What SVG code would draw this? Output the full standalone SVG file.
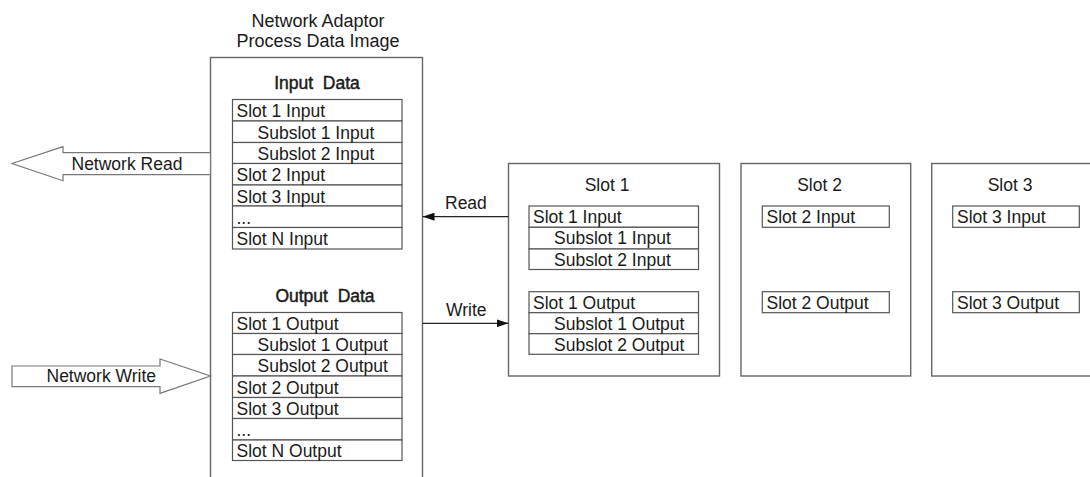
<svg xmlns="http://www.w3.org/2000/svg" width="1090" height="477" viewBox="0 0 1090 477">
<defs>
<style>
text{font-family:"Liberation Sans",Arial,sans-serif;font-size:17.5px;fill:#1a1a1a;white-space:pre}
.box{fill:#fff;stroke:#666;stroke-width:1.4}
.cell{fill:#fff;stroke:#555;stroke-width:1.2}
.hd{font-size:17.5px;stroke:#1a1a1a;stroke-width:0.45}
.ttl{font-size:18px}
.c{text-anchor:middle}
.conn{stroke:#222;stroke-width:1.3;fill:none}
.big{fill:#fff;stroke:#777;stroke-width:1.2}
</style>
<marker id="ah" viewBox="0 0 12 8" refX="12" refY="4" markerWidth="12" markerHeight="8" markerUnits="userSpaceOnUse" orient="auto">
<path d="M0,0 L12,4 L0,8 Z" fill="#111"/>
</marker>
</defs>

<g id="main">
<text class="ttl c" x="318" y="27">Network Adaptor</text>
<text class="ttl c" x="318" y="47">Process Data Image</text>
<rect class="box" x="210.5" y="57.5" width="212" height="425"/>
<text class="hd c" x="317" y="89">Input  Data</text>
<g id="inTable">
<rect class="cell" x="232.5" y="99.5" width="169.5" height="21.5"/>
<rect class="cell" x="232.5" y="121" width="169.5" height="21.5"/>
<rect class="cell" x="232.5" y="142.5" width="169.5" height="21"/>
<rect class="cell" x="232.5" y="163.5" width="169.5" height="21.5"/>
<rect class="cell" x="232.5" y="185" width="169.5" height="21"/>
<rect class="cell" x="232.5" y="206" width="169.5" height="21.5"/>
<rect class="cell" x="232.5" y="227.5" width="169.5" height="21.5"/>
<text x="236.5" y="117">Slot 1 Input</text>
<text x="257.5" y="138.5">Subslot 1 Input</text>
<text x="257.5" y="160">Subslot 2 Input</text>
<text x="236.5" y="181">Slot 2 Input</text>
<text x="236.5" y="202.5">Slot 3 Input</text>
<text x="236.5" y="224">...</text>
<text x="236.5" y="245">Slot N Input</text>
</g>
<text class="hd c" x="325" y="301.5">Output  Data</text>
<g id="outTable">
<rect class="cell" x="232.5" y="312.5" width="169.5" height="21"/>
<rect class="cell" x="232.5" y="333.5" width="169.5" height="21"/>
<rect class="cell" x="232.5" y="354.5" width="169.5" height="21.5"/>
<rect class="cell" x="232.5" y="376" width="169.5" height="21.5"/>
<rect class="cell" x="232.5" y="397.5" width="169.5" height="21"/>
<rect class="cell" x="232.5" y="418.5" width="169.5" height="21.5"/>
<rect class="cell" x="232.5" y="440" width="169.5" height="20.5"/>
<text x="236.5" y="330">Slot 1 Output</text>
<text x="257.5" y="351">Subslot 1 Output</text>
<text x="257.5" y="372">Subslot 2 Output</text>
<text x="236.5" y="393.5">Slot 2 Output</text>
<text x="236.5" y="414.5">Slot 3 Output</text>
<text x="236.5" y="436">...</text>
<text x="236.5" y="457">Slot N Output</text>
</g>
</g>

<g id="netRead">
<polygon class="big" points="12,163.5 63,146.7 63,152.7 210.5,152.7 210.5,174.7 63,174.7 63,180.7"/>
<text x="71.5" y="170">Network Read</text>
</g>
<g id="netWrite">
<polygon class="big" points="12,366 160,366 160,359 210.5,376 160,393.3 160,386.7 12,386.7"/>
<text x="46.5" y="382">Network Write</text>
</g>

<g id="slot1">
<rect class="box" x="508.5" y="163.5" width="211" height="212.5"/>
<text class="c" x="607" y="191">Slot 1</text>
<rect class="cell" x="529" y="206" width="169.5" height="21.3"/>
<rect class="cell" x="529" y="227.3" width="169.5" height="21.7"/>
<rect class="cell" x="529" y="249" width="169.5" height="20.5"/>
<text x="533" y="222.5">Slot 1 Input</text>
<text x="554" y="244">Subslot 1 Input</text>
<text x="554" y="265.5">Subslot 2 Input</text>
<rect class="cell" x="529" y="291.7" width="169.5" height="21"/>
<rect class="cell" x="529" y="312.7" width="169.5" height="21"/>
<rect class="cell" x="529" y="333.7" width="169.5" height="20.6"/>
<text x="533" y="308.5">Slot 1 Output</text>
<text x="554" y="329.5">Subslot 1 Output</text>
<text x="554" y="350.5">Subslot 2 Output</text>
</g>

<g id="slot2">
<rect class="box" x="741" y="163.5" width="169.7" height="212.5"/>
<text class="c" x="819.5" y="191">Slot 2</text>
<rect class="cell" x="762.3" y="206" width="127" height="21.3"/>
<text x="766.5" y="222.5">Slot 2 Input</text>
<rect class="cell" x="762.3" y="291.7" width="127" height="21"/>
<text x="766.5" y="308.5">Slot 2 Output</text>
</g>

<g id="slot3">
<rect class="box" x="931.7" y="163.5" width="170" height="212.5"/>
<text class="c" x="1010" y="191">Slot 3</text>
<rect class="cell" x="952.7" y="206" width="126.6" height="21.3"/>
<text x="957" y="222.5">Slot 3 Input</text>
<rect class="cell" x="952.7" y="291.7" width="126.6" height="21"/>
<text x="957" y="308.5">Slot 3 Output</text>
</g>

<g id="connectors">
<line class="conn" x1="508.5" y1="216.7" x2="422.5" y2="216.7" marker-end="url(#ah)"/>
<text x="445" y="209">Read</text>
<line class="conn" x1="422.5" y1="323.3" x2="508.5" y2="323.3" marker-end="url(#ah)"/>
<text x="446" y="316">Write</text>
</g>
</svg>
